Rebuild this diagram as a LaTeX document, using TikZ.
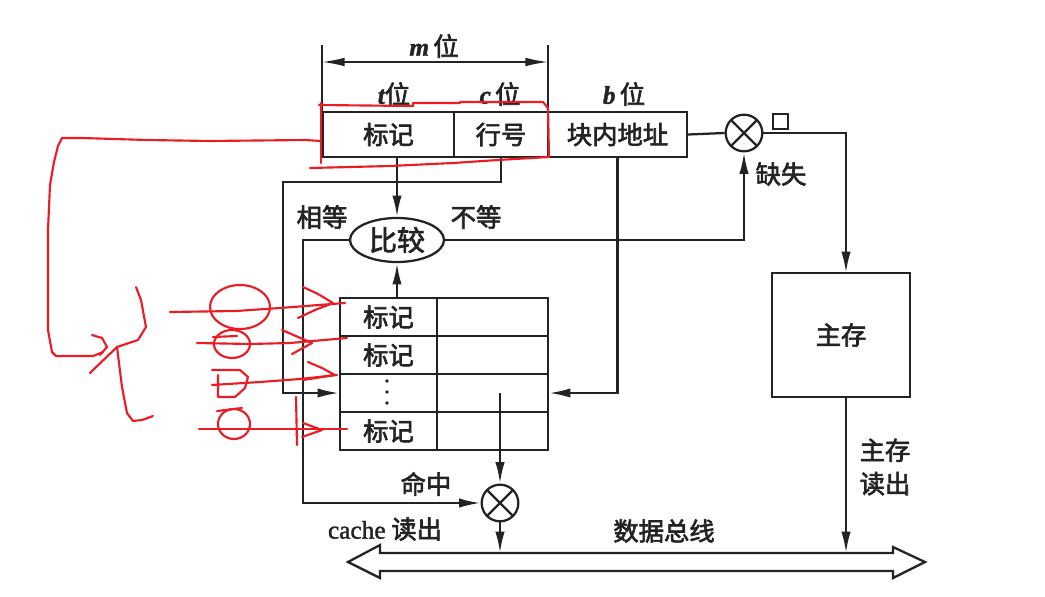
\documentclass[tikz,border=0pt]{standalone}
\usepackage{fontspec}
\newfontfamily\cjk[FakeBold=2.5]{Noto Sans CJK SC}
\newfontfamily\lat[FakeBold=1.5]{Liberation Serif}
\usetikzlibrary{arrows.meta,shapes.geometric}
\definecolor{redink}{RGB}{235,28,36}
\definecolor{ink}{RGB}{35,35,35}
\begin{document}
\begin{tikzpicture}[x=0.75pt,y=-0.75pt,
  every node/.style={font=\cjk\fontsize{19pt}{25pt}\selectfont, inner sep=0pt, text=ink},
  ln/.style={draw=ink, line width=1.7pt},
  addr/.style={ln, rectangle, minimum height=33.75pt},
  cell/.style={ln, rectangle, minimum height=28.5pt},
  arr/.style={ln, -{Latex[length=16pt,width=7pt]}},
  dim/.style={ln, line width=1.3pt, {Latex[length=17pt,width=6.5pt]}-{Latex[length=17pt,width=6.5pt]}},
  mul/.style={ln, circle, minimum size=27.5pt, path picture={\draw[ink,line width=1.7pt]
     (path picture bounding box.north west) -- (path picture bounding box.south east)
     (path picture bounding box.north east) -- (path picture bounding box.south west);}},
  redline/.style={draw=redink, line width=1.6pt, line join=round, line cap=round}
]
\fill[white] (0,0) rectangle (1045,596);
\useasboundingbox (0,0) rectangle (1045,596);

% address register
\node[addr, minimum width=98.25pt] (tagA) at (388.5,134.5) {标记};
\node[addr, minimum width=70.5pt] (lineA) at (501,134.5) {行号};
\node[addr, minimum width=104.25pt] (offA) at (617.5,134.5) {块内地址};

% dimension
\coordinate (dL) at (322,62);
\coordinate (dR) at (548,62);
\draw[ln, line width=1.3pt] (322,45) -- (322,112);
\draw[ln, line width=1.3pt] (548,45) -- (548,112);
\draw[dim] (dL) -- (dR);
\node (mlab) at (434,46) {{\lat\bfseries\itshape m}\,位};
\node (tlab) at (394,94) {{\lat\bfseries\itshape t}位};
\node (clab) at (500,94) {{\lat\bfseries\itshape c}\,位};
\node (blab) at (624,94) {{\lat\bfseries\itshape b}\,位};

% compare
\node[ln, ellipse, minimum width=70.5pt, minimum height=33pt, font=\cjk\fontsize{21pt}{24pt}\selectfont] (cmp) at (397,240) {比较};
\node (eq) at (322,217) {相等};
\node (neq) at (476,217) {不等};

% cache table
\node[cell, minimum width=72.75pt] (r1a) at (388.5,317) {标记};
\node[cell, minimum width=83.25pt] (r1b) at (492.5,317) {};
\node[cell, minimum width=72.75pt] (r2a) at (388.5,355) {标记};
\node[cell, minimum width=83.25pt] (r2b) at (492.5,355) {};
\node[cell, minimum width=72.75pt] (r3a) at (388.5,393) {};
\node[cell, minimum width=83.25pt] (r3b) at (492.5,393) {};
\node[cell, minimum width=72.75pt] (r4a) at (388.5,431) {标记};
\node[cell, minimum width=83.25pt] (r4b) at (492.5,431) {};
\foreach \d in {-11,0,11} \fill[ink] (387,392+\d) circle (1.8);

% multipliers
\node[mul] (mulA) at (744,133) {};
\node[mul] (mulB) at (500,503) {};
\node[ln, line width=1.3pt, minimum size=11.25pt] (sq) at (780.5,121.5) {};
\node (miss) at (781,174) {缺失};
\node (hit) at (426,484) {命中};
\node (cread) at (385,529) {{\lat\fontsize{19pt}{22pt}\selectfont cache} 读出};

% main memory
\node[ln, minimum width=103.5pt, minimum height=93pt] (mem) at (841,335) {主存};
\node[align=center] (mread) at (885,467) {主存\\读出};
\coordinate (memIn) at (846,273);
\coordinate (memOut) at (846,397);

% bus
\draw[ln] (348,562) -- (380,545) -- (380,553) -- (893,553) -- (893,547) -- (925,562)
  -- (893,578) -- (893,571) -- (380,571) -- (380,578) -- cycle;
\coordinate (busA) at (500,553);
\coordinate (busB) at (846,553);
\node (bus) at (664,531) {数据总线};

% connectors
\draw[arr] (tagA.south -| cmp.north) -- (cmp.north);
\coordinate (lnTurn) at (283,182);
\draw[arr] (lineA.south) |- (lnTurn) |- (r3a.west);
\draw[arr] (offA.south) |- (r3b.east);
\draw[arr] (r1a.north -| cmp.south) -- (cmp.south);
\coordinate (eqTurn) at (303,240);
\draw[arr] (cmp.west) -- (eqTurn) |- (mulB.west);
\draw[arr] (cmp.east) -| (mulA.south);
\draw[ln] (offA.east) -- (mulA.west);
\draw[arr] (mulA.east) -| (memIn);
\draw[arr] (memOut) -- (busB);
\coordinate (dataOut) at (500,393);
\draw[arr] (dataOut) -- (mulB.north);
\draw[arr] (mulB.south) -- (busA);

% red annotations
\draw[redline] (310,168) -- (390,166) -- (453,163) -- (498,160) -- (549,157) -- (548,108) -- (543,102) -- (460,102) -- (460,103) -- (413,103) -- (413,106) -- (319,105);
\draw[redline] (321,103) -- (321,163);
\draw[redline] (321,141) -- (305,140) -- (210,141) -- (147,140) -- (82,138) -- (62,138) -- (58,146) -- (54,162) -- (50,185) -- (48,230) -- (48,330) -- (52,352) -- (56,356) -- (93,356) -- (103,352);
\draw[redline] (92,335) -- (102,338) -- (107,347) -- (100,355);
\draw[redline] (136,287) -- (141,300) -- (146,327) -- (138,340) -- (117,347) -- (90,373);
\draw[redline] (117,347) -- (122,387) -- (127,413) -- (133,421) -- (142,420) -- (153,416);
% row 1
\draw[redline] (170,312) -- (236,311) -- (280,308) -- (345,303);
\draw[redline] (303,287) -- (318,294) -- (333,303) -- (315,310) -- (298,318);
\draw[redline] (240,307) ellipse [x radius=30, y radius=22];
% row 2
\draw[redline] (197,343) -- (250,344) -- (290,343) -- (347,338);
\draw[redline] (232,344) ellipse [x radius=18, y radius=14];
\draw[redline] (213,337) -- (237,336);
\draw[redline] (282,330) -- (312,343) -- (292,354);
% row 3
\draw[redline] (212,385) -- (260,382) -- (300,379) -- (337,375);
\draw[redline] (212,370) -- (240,370) -- (248,377) -- (245,388) -- (235,397) -- (218,397) -- (218,375);
\draw[redline] (308,362) -- (322,368) -- (335,375) -- (303,380);
% row 4
\draw[redline] (199,429) -- (347,429);
\draw[redline] (234,424) ellipse [x radius=16, y radius=15];
\draw[redline] (217,411) -- (242,408);
\draw[redline] (303,423) -- (322,430) -- (302,437);
\draw[redline] (296,397) -- (297,445);
\end{tikzpicture}
\end{document}
